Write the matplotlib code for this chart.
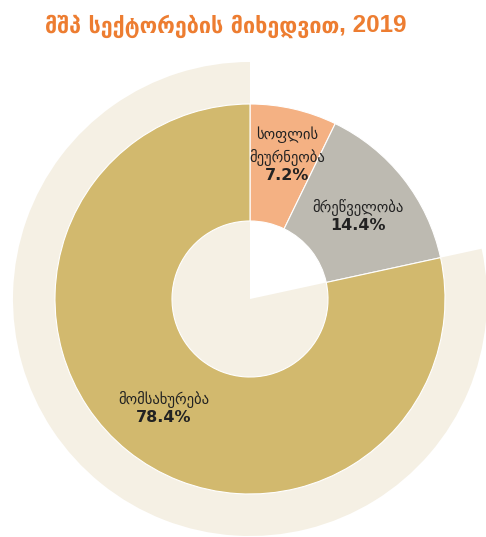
import numpy as np
import matplotlib.pyplot as plt

plt.rcParams['font.family'] = ['DejaVu Sans']

sectors = ['სოფლის\nმეურნეობა', 'მრეწველობა', 'მომსახურება']
shares = [7.2, 14.4, 78.4]
colors = ['#F4B183', '#BDBAB1', '#D2B96E']
title_text = 'მშპ სექტორების მიხედვით'
title_year = ', 2019'

W, H = 486, 537
cx, cy = 250, 299
R_OUT, R_IN, R_BG = 195, 78, 237

fig = plt.figure(figsize=(W / 100, H / 100), dpi=100)
ax = fig.add_axes([0, 0, 1, 1])

# light background sector behind the services slice
ax.pie([shares[0] + shares[1], shares[2]], radius=R_BG, startangle=90,
       counterclock=False, colors=['none', '#F5F0E4'], center=(0, 0),
       wedgeprops=dict(linewidth=0), frame=True)

wedges, _ = ax.pie(shares, radius=R_OUT, startangle=90, counterclock=False,
                   colors=colors, center=(0, 0), frame=True,
                   wedgeprops=dict(width=R_OUT - R_IN, edgecolor='white',
                                   linewidth=0.8))
ax.set_xlim(-cx, W - cx)
ax.set_ylim(-(H - cy), cy)
ax.set_aspect('equal')
ax.axis('off')

# label radius and angle nudge per slice
label_r = [140, 137, 138]
label_dt = [-2.5, 0, 0]
for w, name, val, r, dt in zip(wedges, sectors, shares, label_r, label_dt):
    mid = np.deg2rad((w.theta1 + w.theta2) / 2 + dt)
    x, y = r * np.cos(mid), r * np.sin(mid) - 8
    ax.text(x, y + 6, name, ha='center', va='bottom', fontsize=10.5,
            color='#222222', linespacing=1.5)
    ax.text(x, y + 4, f'{val}%', ha='center', va='top', fontsize=11.5,
            fontweight='bold', color='#222222')

# title in two parts, placed side by side
t1 = fig.text(45 / W, 1 - 26 / H, title_text, ha='left', va='center',
              fontsize=15.5, color='#ED7D31', fontweight='bold')
fig.canvas.draw()
bb = t1.get_window_extent()
fig.text(bb.x1 / W, 1 - 25 / H, title_year, ha='left', va='center',
         fontsize=17.5, color='#ED7D31', fontweight='bold',
         family=['Liberation Sans', 'DejaVu Sans'])

fig.savefig('out.png', dpi=100)
